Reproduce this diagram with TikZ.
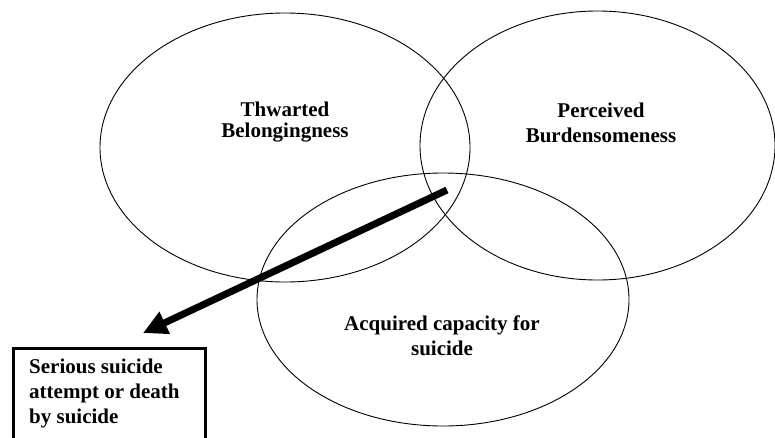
\documentclass[tikz,border=0pt]{standalone}
\usepackage{fontspec}
\setmainfont{Liberation Serif}
\usetikzlibrary{arrows.meta,shapes.geometric}
\begin{document}
\begin{tikzpicture}[x=1pt,y=-1pt,
  circ/.style={draw,ellipse,line width=0.9pt,inner sep=0pt},
  lab/.style={font=\bfseries\fontsize{21}{25}\selectfont,align=center,inner sep=0pt,anchor=base},
  bigarrow/.style={line width=7pt,-{Triangle[length=24pt,width=23pt]}}]
\useasboundingbox (0,0) rectangle (775,437);
\clip (0,0) rectangle (775,437);
\node[circ,minimum width=370pt,minimum height=269pt] (tb) at (285,147.5) {};
\node[circ,minimum width=355pt,minimum height=269pt] (pb) at (597.5,145.5) {};
\node[circ,minimum width=372pt,minimum height=253pt] (ac) at (443,299.5) {};
\node[lab,font=\bfseries\fontsize{21}{21}\selectfont] (tbl) at (285,137) {Thwarted\\Belongingness};
\node[lab] (pbl) at (601,142) {Perceived\\Burdensomeness};
\node[lab] (acl) at (442,355) {Acquired capacity for\\suicide};
\node[draw,line width=3pt,anchor=north west,minimum width=192pt,minimum height=110pt,inner sep=0pt] (out) at (12,347) {};
\node[lab,align=left,anchor=base west] (outl) at (29,423) {Serious suicide\\attempt or death\\by suicide};
\coordinate (start) at (447,190);
\coordinate (tip) at (143,333);
\draw[bigarrow] (start) -- (tip);
\end{tikzpicture}
\end{document}
